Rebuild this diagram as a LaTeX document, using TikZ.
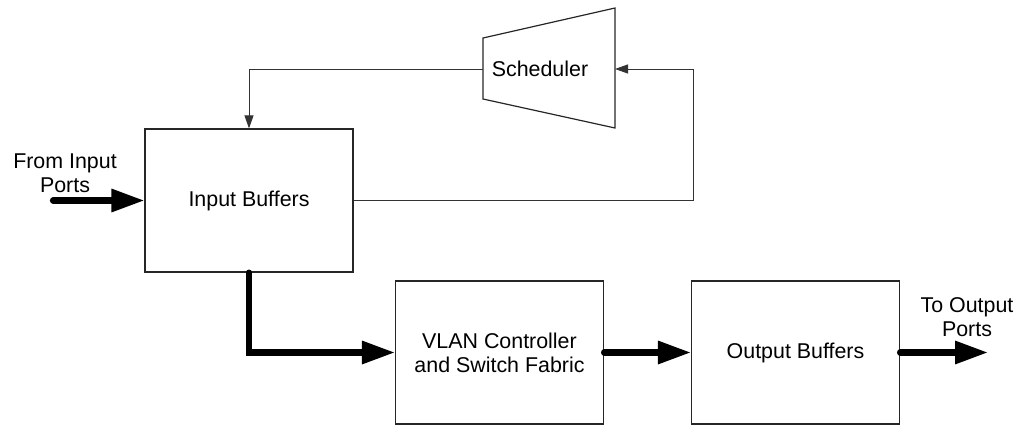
\documentclass[tikz,border=0pt]{standalone}
\usepackage{fontspec}
\setmainfont{Liberation Sans}
\usetikzlibrary{arrows.meta}

\begin{document}
\begin{tikzpicture}
  [x=0.5pt,y=-0.5pt,
   every node/.style={font=\fontsize{10.7}{12}\selectfont, align=center},
   box/.style={draw=black!85, line width=0.6pt, minimum width=104pt, minimum height=71.5pt, inner sep=0pt},
   ctrl/.style={draw=black!80, line width=0.5pt, -{Triangle[length=6.5pt,width=4.5pt]}},
   fat/.style={line width=3.1pt, line cap=round, -{Triangle[length=16.5pt,width=11pt]}}]
  \useasboundingbox (0,0) rectangle (1027,428);

  \node[box] (inbuf) at (249,200.5) {Input Buffers};
  \node[box] (vlan) at (499.5,352.5) {VLAN Controller\\and Switch Fabric};
  \node[box] (outbuf) at (795.5,352.5) {Output Buffers};
  \node (sched) at (540,69) {Scheduler};
  \draw[draw=black!85, line width=0.6pt] (483,38) -- (615,8) -- (615,128) -- (483,99) -- cycle;

  \node (fromlbl) at (65,173.5) {From Input\\Ports};
  \node (tolbl) at (967,317) {To Output\\Ports};

  \coordinate (schedL) at (483,69);
  \coordinate (schedR) at (615,69);
  \coordinate (turn) at (693,69);
  \coordinate (inport) at (53,200.5);
  \coordinate (outport) at (988,352.5);

  \draw[fat] (inport) -- (inbuf.west);
  \draw[fat] (inbuf.south) |- (vlan.west);
  \draw[fat] (vlan) -- (outbuf);
  \draw[fat] (outbuf.east) -- (outport);

  \draw[ctrl] (schedL) -| (inbuf.north);
  \draw[ctrl] (inbuf.east) -| (turn) -- (schedR);

\end{tikzpicture}
\end{document}
